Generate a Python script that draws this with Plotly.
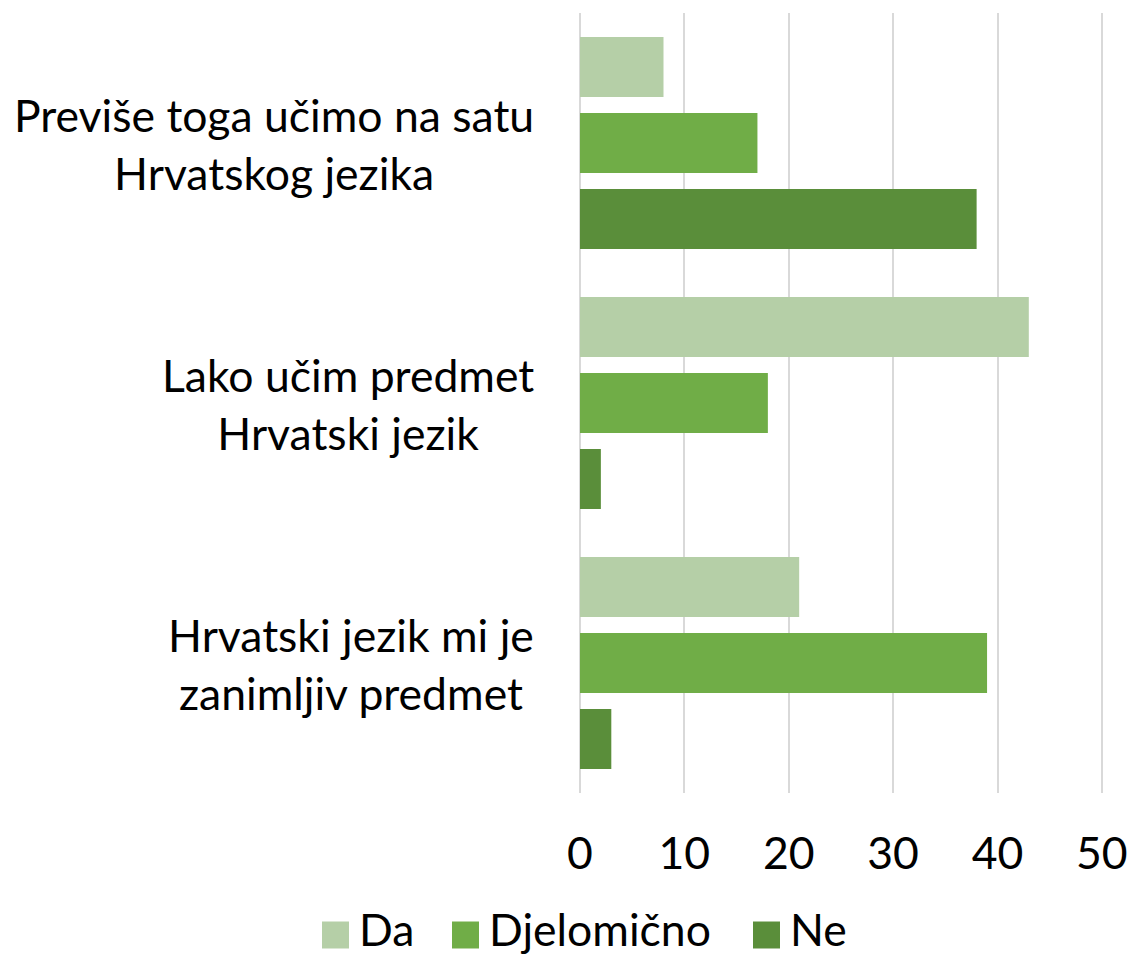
import plotly.graph_objects as go

categories = ["Previše toga učimo na satu<br>Hrvatskog jezika",
              "Lako učim predmet<br>Hrvatski jezik",
              "Hrvatski jezik mi je<br>zanimljiv predmet"]
series_names = ["Da", "Djelomično", "Ne"]
da = [8, 43, 21]
djelomicno = [17, 18, 39]
ne = [38, 2, 3]
x_ticks = [0, 10, 20, 30, 40, 50]
colors = ["#B5CFA7", "#70AD47", "#5A8E3A"]

FONT = "Lato"
FS = 44.5

fig = go.Figure()
for name, vals, col in zip(series_names, [da, djelomicno, ne], colors):
    fig.add_trace(go.Bar(y=categories, x=vals, name=name, orientation="h",
                         marker=dict(color=col, line=dict(width=0)),
                         showlegend=False))

# category labels (centered multi-line text)
for cat in categories:
    fig.add_annotation(x=0, xref="paper", y=cat, yref="y", text=cat,
                       xanchor="right", yanchor="middle", align="center",
                       showarrow=False, xshift=-44,
                       font=dict(family=FONT, size=FS, color="#000000"))

# custom legend
sq = 27
legend_items = [(series_names[0], colors[0], 322), (series_names[1], colors[1], 452), (series_names[2], colors[2], 753)]
plot_left, plot_w = 580, 525
plot_top, plot_h = 13, 780
for name, col, px in legend_items:
    x0 = (px - plot_left) / plot_w
    x1 = (px + sq - plot_left) / plot_w
    yc = 935
    y0 = 1 - (yc + sq / 2 - plot_top) / plot_h
    y1 = 1 - (yc - sq / 2 - plot_top) / plot_h
    fig.add_shape(type="rect", xref="paper", yref="paper", x0=x0, x1=x1, y0=y0, y1=y1,
                  fillcolor=col, line=dict(width=0))
    fig.add_annotation(xref="paper", yref="paper", x=(px + sq + 8 - plot_left) / plot_w,
                       y=1 - (928 - plot_top) / plot_h, text=name, showarrow=False,
                       xanchor="left", yanchor="middle",
                       font=dict(family=FONT, size=FS, color="#000000"))

fig.update_layout(
    width=1133, height=957,
    margin=dict(l=580, r=28, t=13, b=164, autoexpand=False),
    paper_bgcolor="white", plot_bgcolor="white",
    barmode="group", bargap=0.123, bargroupgap=0.21,
    font=dict(family=FONT, size=FS, color="#000000"),
    showlegend=False,
)
fig.update_xaxes(range=[0, 50.3], tickvals=x_ticks, ticktext=[str(t) for t in x_ticks],
                 showgrid=True, gridcolor="#D9D9D9", gridwidth=2,
                 zeroline=True, zerolinecolor="#D9D9D9", zerolinewidth=2,
                 showline=False, ticks="", ticklabelstandoff=30, automargin=False,
                 tickfont=dict(family=FONT, size=FS, color="#000000"))
fig.update_yaxes(autorange="reversed", showticklabels=False, showgrid=False,
                 zeroline=False, showline=False, ticks="", automargin=False)

fig.write_html("out.html", config={"displayModeBar": False},
               post_script="document.body.style.margin='0';document.body.style.overflow='hidden';")
